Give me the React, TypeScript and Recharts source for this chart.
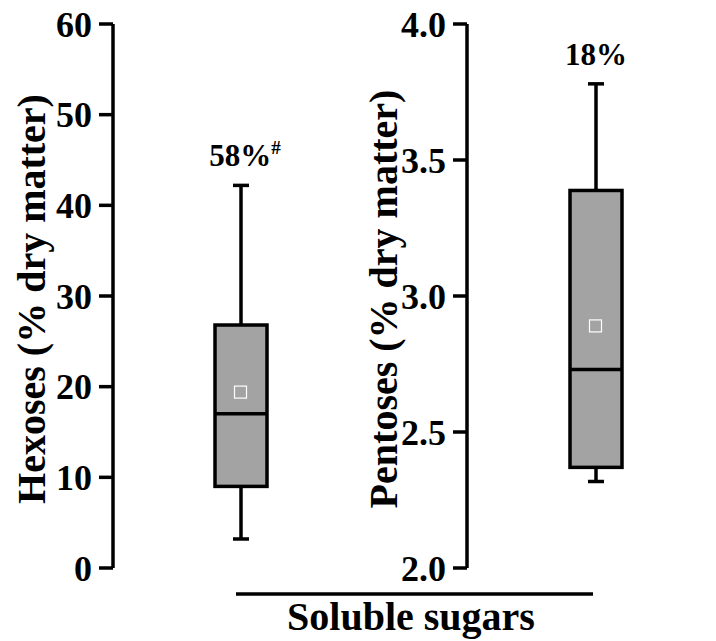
import { Bar, ComposedChart, LabelList, Scatter, XAxis, YAxis } from 'recharts';

const panels = ['Hexoses', 'Pentoses'];
const axisTitles = ['Hexoses (% dry matter)', 'Pentoses (% dry matter)'];
const mins = [3.2, 2.318];
const q1s = [9.0, 2.37];
const medians = [17.0, 2.73];
const q3s = [26.8, 3.388];
const maxs = [42.2, 3.78];
const means = [19.4, 2.89];
const notes = ['58%', '18%'];
const noteMarks = ['#', ''];
const hexoseTicks = [0, 10, 20, 30, 40, 50, 60];
const pentoseTicks = [2.0, 2.5, 3.0, 3.5, 4.0];

const FONT = '"Liberation Serif", "Times New Roman", serif';
const BOX_FILL = '#a3a3a3';
const LW = 3.5;

function rowFor(i: number) {
  return [
    {
      name: panels[i],
      min: mins[i],
      q1: q1s[i],
      median: medians[i],
      q3: q3s[i],
      max: maxs[i],
      mean: means[i],
      note: notes[i],
      mark: noteMarks[i],
    },
  ];
}

// whiskers + box + median, drawn inside the [min, max] range bar
function BoxShape(props: any) {
  const { x, y, width, height, payload } = props;
  const { min, q1, median, q3, max } = payload;
  const py = (v: number) => y + (height * (max - v)) / (max - min);
  const cx = x + width / 2;
  const cap = 8;
  return (
    <g>
      <line x1={cx} x2={cx} y1={py(max)} y2={py(q3)} stroke="#000" strokeWidth={LW} />
      <line x1={cx} x2={cx} y1={py(q1)} y2={py(min)} stroke="#000" strokeWidth={LW} />
      <line x1={cx - cap} x2={cx + cap} y1={py(max)} y2={py(max)} stroke="#000" strokeWidth={LW} />
      <line x1={cx - cap} x2={cx + cap} y1={py(min)} y2={py(min)} stroke="#000" strokeWidth={LW} />
      <rect
        x={x}
        y={py(q3)}
        width={width}
        height={py(q1) - py(q3)}
        fill={BOX_FILL}
        stroke="#000"
        strokeWidth={LW}
      />
      <line x1={x} x2={x + width} y1={py(median)} y2={py(median)} stroke="#000" strokeWidth={LW} />
    </g>
  );
}

function MeanSquare(props: any) {
  const { cx, cy } = props;
  return <rect x={cx - 6} y={cy - 6} width={12} height={12} fill="none" stroke="#fff" strokeWidth={1.2} />;
}

function NoteLabel(props: any) {
  const { x, y, width, value, dx = 0 } = props;
  const [text, mark] = String(value).split('|');
  return (
    <text
      x={x + width / 2 + dx}
      y={y - 19}
      textAnchor="middle"
      fontFamily={FONT}
      fontWeight="bold"
      fontSize={31}
      fill="#000"
    >
      {text}
      {mark ? (
        <tspan fontSize={19} dy={-12}>
          {mark}
        </tspan>
      ) : null}
    </text>
  );
}

function YTitle(baseline: number, text: string) {
  return (props: any) => {
    const { viewBox } = props;
    const cy = viewBox.y + viewBox.height / 2 + 3;
    const bx = viewBox.x + baseline;
    return (
      <text
        transform={`translate(${bx}, ${cy}) rotate(-90)`}
        textAnchor="middle"
        fontFamily={FONT}
        fontWeight="bold"
        fontSize={40}
        fill="#000"
      >
        {text}
      </text>
    );
  };
}

const tickStyle = { fill: '#000', fontSize: 36, fontWeight: 'bold', fontFamily: FONT };

function Panel({ i, width, yWidth, domain, ticks, fmt, padLeft, titleBase, noteDx }: any) {
  const data = rowFor(i).map((d) => ({ ...d, label: `${d.note}|${d.mark}` }));
  return (
    <ComposedChart width={width} height={641} data={data} margin={{ top: 24, right: 0, bottom: 73, left: 0 }}>
      <XAxis
        dataKey="name"
        tick={false}
        tickLine={false}
        height={0}
        axisLine={{ stroke: '#000', strokeWidth: LW }}
        padding={{ left: padLeft, right: 0 }}
      />
      <YAxis
        width={yWidth}
        domain={domain}
        ticks={ticks}
        type="number"
        allowDataOverflow
        tickFormatter={fmt}
        tick={tickStyle}
        tickSize={14}
        tickMargin={7}
        tickLine={{ stroke: '#000', strokeWidth: LW }}
        axisLine={{ stroke: '#000', strokeWidth: LW }}
        label={{ content: YTitle(titleBase, axisTitles[i]) }}
      />
      <Bar
        dataKey={(d: any) => [d.min, d.max]}
        barSize={52}
        shape={<BoxShape />}
        isAnimationActive={false}
      >
        <LabelList dataKey="label" content={<NoteLabel dx={noteDx} />} />
      </Bar>
      <Scatter dataKey="mean" shape={<MeanSquare />} isAnimationActive={false} />
    </ComposedChart>
  );
}

export default function App() {
  return (
    <div style={{ position: 'absolute', left: 0, top: 0, width: 716, height: 641, background: '#fff' }}>
      <div style={{ position: 'absolute', left: 0, top: 0 }}>
        <Panel
          i={0}
          width={368}
          yWidth={113}
          domain={[0, 60]}
          ticks={hexoseTicks}
          fmt={(v: number) => String(v)}
          padLeft={0}
          titleBase={45}
          noteDx={4}
        />
      </div>
      <div style={{ position: 'absolute', left: 350, top: 0 }}>
        <Panel
          i={1}
          width={366}
          yWidth={117}
          domain={[2, 4]}
          ticks={pentoseTicks}
          fmt={(v: number) => v.toFixed(1)}
          padLeft={8}
          titleBase={47}
          noteDx={0}
        />
      </div>
      <svg
        width={716}
        height={641}
        style={{ position: 'absolute', left: 0, top: 0, pointerEvents: 'none' }}
      >
        <line x1={236} x2={593} y1={594} y2={594} stroke="#000" strokeWidth={LW} />
        <text x={411} y={630} textAnchor="middle" fontFamily={FONT} fontWeight="bold" fontSize={40} fill="#000">
          Soluble sugars
        </text>
      </svg>
    </div>
  );
}
